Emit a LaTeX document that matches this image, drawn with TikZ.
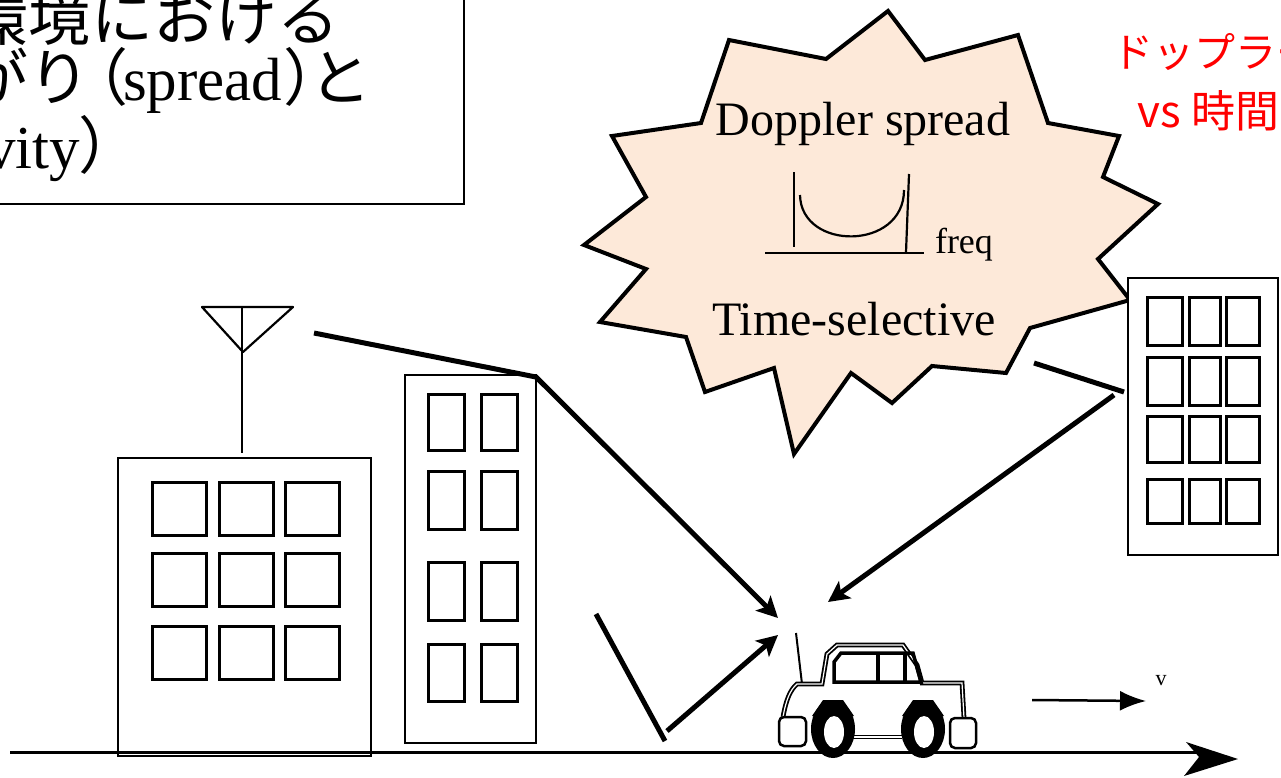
\documentclass[tikz,border=0pt]{standalone}
\usepackage{fontspec}
\setmainfont{Liberation Serif}
\newfontfamily\jpfont{Noto Sans CJK JP}
\usetikzlibrary{arrows.meta}
\definecolor{burst}{HTML}{FDE9D9}
\definecolor{alertred}{HTML}{FF0000}
\newcommand\pxsize[1]{\fontsize{#1pt}{#1pt}\selectfont}

\begin{document}
\begin{tikzpicture}[x=1pt,y=-1pt,
  lbl/.style={inner sep=0pt,outer sep=0pt},
  ray/.style={line width=5pt,-{Stealth[length=21pt,width=21pt,inset=5pt]}},
  rayseg/.style={line width=5pt},
  bldg/.style={draw,fill=white,line width=2.5pt},
  win/.style={draw,line width=3pt},
  carline/.style={draw,line width=1.8pt,double=white,double distance=1.2pt},
  wheel/.style={fill=black},
  bumper/.style={draw,fill=white,line width=2.5pt,rounded corners=5pt}]
\clip (0,0) rectangle (1281,777);

% title box (runs off the top-left corner)
\draw[line width=1.5pt] (-10,-10) rectangle (464,204);
\node[lbl,anchor=base east] (t1) at (339,40) {\jpfont\pxsize{62}環境における};
\node[lbl,anchor=base east] (t2a) at (91,100) {\jpfont\pxsize{62}がり};
\node[lbl,anchor=base west] (t2p) at (66,100) {\jpfont\pxsize{62}（};
\node[lbl,anchor=base west] (t2b) at (123,100) {\pxsize{61}spread};
\node[lbl,anchor=base west] (t2c) at (283,100) {\jpfont\pxsize{62}）};
\node[lbl,anchor=base east] (t2d) at (371,100) {\jpfont\pxsize{62}と};
\node[lbl,anchor=base east] (t3a) at (80,168) {\pxsize{61}vity};
\node[lbl,anchor=base west] (t3b) at (78,168) {\jpfont\pxsize{62}）};

% red note, top right
\node[lbl,anchor=base west,text=alertred] (r1) at (1112,67) {\jpfont\pxsize{41}ドップラー};
\node[lbl,anchor=base east,text=alertred] (r2) at (1279,127) {\jpfont\pxsize{44}vs 時間};

% burst
\filldraw[fill=burst,draw=black,line width=4pt]
  (888,11) -- (925,60) -- (1018,35) -- (1048,123) -- (1119,136) -- (1103,177)
  -- (1158,204) -- (1098,259) -- (1130,300) -- (1030,328) -- (1006,373)
  -- (932,366) -- (892,403) -- (851,373) -- (794,454) -- (774,368)
  -- (705,392) -- (686,337) -- (600,322) -- (646,269) -- (584,245)
  -- (646,197) -- (612,136) -- (701,123) -- (729,40) -- (826,59) -- cycle;
\node[lbl,anchor=base] (ds) at (863,135) {\pxsize{48}Doppler spread};
\node[lbl,anchor=base] (ts) at (854,335) {\pxsize{48}Time-selective};
\node[lbl,anchor=base west] (fq) at (935,253) {\pxsize{36}freq};
% Doppler spectrum sketch
\draw[line width=2.2pt] (765,253) -- (924,253);
\draw[line width=2.2pt] (794,172) -- (794,247);
\draw[line width=2.2pt] (909,174) -- (906,252);
\draw[line width=2.2pt] (800,195) .. controls (801,251) and (904,251) .. (904,190);

% transmitter antenna
\draw[line width=2.2pt,line join=round] (202,307) -- (293,307) -- (243,352) -- cycle;
\draw[line width=2.2pt] (242,307) -- (242,453);

% left building
\draw[bldg] (118,458) rectangle (371,756);
\foreach \x in {152.5,219,285.5}
  \foreach \y in {482,553.5,626}
    \draw[win] (\x,\y) rectangle ++(54,53);

% middle building
\draw[bldg] (405,375) rectangle (536,743);
\foreach \x in {428,481}
  \foreach \y/\h in {394/56,471/58,562/58,644/57}
    \draw[win] (\x,\y) rectangle ++(36,\h);

% right building
\draw[bldg] (1128,278) rectangle (1278,555);
\foreach \x/\w in {1147/35,1189/31,1226/33}
  \foreach \y/\h in {297/48,357/48,416/46,479/44}
    \draw[win] (\x,\y) rectangle ++(\w,\h);

% ground with arrow
\coordinate (g0) at (10,752);
\coordinate (g1) at (1200,752);
\draw[line width=3pt] (g0) -- (g1);
\fill (1186,742) -- (1238,759) -- (1184,776) -- (1199,757) -- cycle;

% propagation paths
\coordinate (a0) at (314,333);
\coordinate (a1) at (536,377);
\coordinate (a2) at (778,618);
\draw[ray] (a0) -- (a1) -- (a2);
\coordinate (b0) at (596,614);
\coordinate (b1) at (665,741);
\coordinate (b2) at (667,731);
\coordinate (b3) at (778,635);
\draw[rayseg] (b0) -- (b1);
\draw[ray] (b2) -- (b3);
\coordinate (c0) at (1034,363);
\coordinate (c1) at (1124,392);
\coordinate (c2) at (1114,395);
\coordinate (c3) at (828,602);
\draw[rayseg] (c0) -- (c1);
\draw[ray] (c2) -- (c3);

% car
\draw[line width=2pt] (796,633) -- (802,684);
\draw[carline] (783,717) .. controls (786,700) and (790,690) .. (797,684)
  -- (822,684) -- (827,654) -- (837,645) -- (903,645) -- (917,665)
  -- (922,683) -- (962,683) -- (964,718);
\draw[carline] (853,737) -- (902,737);
\draw[line width=3.5pt,line join=miter] (834,662) -- (841,653) -- (913,653) -- (921,682) -- (834,682) -- cycle;
\draw[line width=4.5pt] (878,653) -- (878,682);
\draw[line width=3.5pt] (905,653) -- (905,682);
\foreach \cx in {833,923}{
  \fill[wheel] (\cx,729) ellipse [x radius=22, y radius=29];
  \fill[wheel] (\cx-21,716) -- (\cx-10,700) -- (\cx+10,700) -- (\cx+21,716) -- cycle;
  \fill[white] (\cx+1,732) ellipse [x radius=10, y radius=16];
}
\draw[bumper] (779,717) rectangle (806,746);
\draw[bumper] (950,718) rectangle (976,748);

% speed arrow
\coordinate (v0) at (1032,700);
\coordinate (v1) at (1146,701);
\draw[line width=2.5pt,-{Latex[length=26pt,width=20pt]}] (v0) -- (v1);
\node[lbl] (vl) at (1161,681) {\pxsize{22}v};
\end{tikzpicture}
\end{document}
